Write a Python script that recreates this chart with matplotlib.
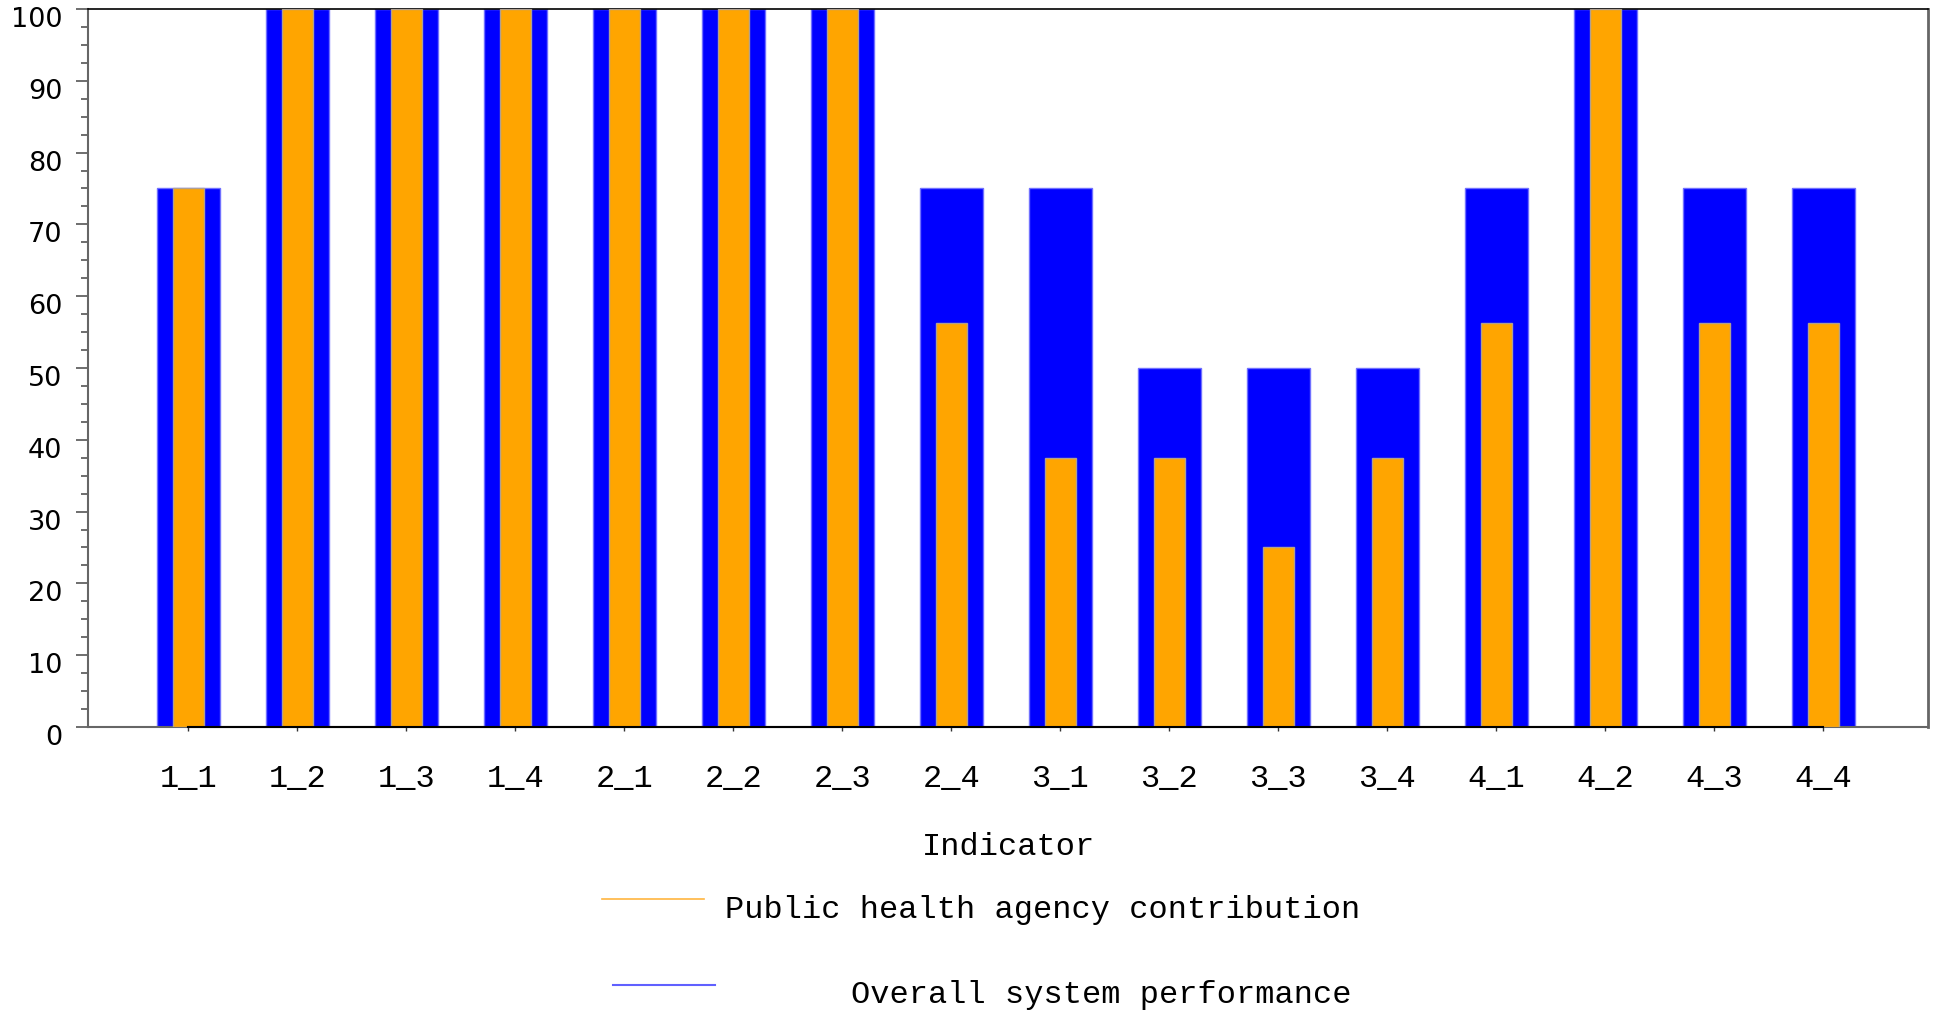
import numpy as np
import matplotlib
matplotlib.use('Agg')
import matplotlib.pyplot as plt
from matplotlib.lines import Line2D
from matplotlib.ticker import MultipleLocator
from matplotlib.transforms import ScaledTranslation

# data
indicators = ['1_1', '1_2', '1_3', '1_4', '2_1', '2_2', '2_3', '2_4',
              '3_1', '3_2', '3_3', '3_4', '4_1', '4_2', '4_3', '4_4']
overall = [75, 100, 100, 100, 100, 100, 100, 75, 75, 50, 50, 50, 75, 100, 75, 75]
agency = [75, 100, 100, 100, 100, 100, 100, 56.25, 37.5, 37.5, 25, 37.5,
          56.25, 100, 56.25, 56.25]

mono = 'Liberation Mono'

fig = plt.figure(figsize=(19.34, 10.1), dpi=100)
ax = fig.add_axes([0.0455, 0.2802, 0.9514, 0.7109])

x = np.arange(len(indicators))
ax.bar(x, overall, width=0.58, color='#0000ff', edgecolor='#7070ff', linewidth=1, zorder=2)
ax.bar(x, agency, width=0.285, color='#ffa500', edgecolor='#b0a090', linewidth=1, zorder=3)

ax.set_xlim(-0.92, 15.96)
ax.set_ylim(0, 100)

# black zero line between the first and last categories
ax.plot([x[0], x[-1]], [0, 0], color='black', linewidth=1.5, zorder=4, clip_on=False)

ax.yaxis.set_major_locator(MultipleLocator(10))
ax.yaxis.set_minor_locator(MultipleLocator(2.5))
ax.tick_params(axis='y', which='major', length=8.5, width=1.2, color='#555555',
               labelsize=19.5, pad=10)
ax.tick_params(axis='y', which='minor', length=5, width=1.2, color='#555555')
ax.set_xticks(x)
ax.set_xticklabels(indicators, fontfamily=mono, fontsize=23)
ax.tick_params(axis='x', length=3, width=1, color='#333333', pad=24)

# y labels sit a little below their ticks in the original
shift = ScaledTranslation(0, -0.08, fig.dpi_scale_trans)
for lab in ax.get_yticklabels():
    lab.set_transform(lab.get_transform() + shift)

ax.set_xlabel('Indicator', fontfamily=mono, fontsize=23, labelpad=27)

ax.spines['top'].set_color('black')
ax.spines['top'].set_linewidth(1.2)
ax.spines['left'].set_color('#666666')
ax.spines['left'].set_linewidth(1.5)
ax.spines['right'].set_color('#666666')
ax.spines['right'].set_linewidth(2)
ax.spines['bottom'].set_color('#666666')
ax.spines['bottom'].set_linewidth(1.5)

# hand-laid legend below the axis title
W, H = 1934, 1010
fig.add_artist(Line2D([602 / W, 704 / W], [1 - 899 / H, 1 - 899 / H],
                      color='#ffb540', linewidth=1.2))
fig.text(725 / W, 1 - 910 / H, 'Public health agency contribution',
         fontfamily=mono, fontsize=23, va='center', ha='left')
fig.add_artist(Line2D([613 / W, 715 / W], [1 - 985 / H, 1 - 985 / H],
                      color='#6060ff', linewidth=1.5))
fig.text(851 / W, 1 - 995 / H, 'Overall system performance',
         fontfamily=mono, fontsize=23, va='center', ha='left')

fig.savefig('out.png', dpi=100, facecolor='white')
